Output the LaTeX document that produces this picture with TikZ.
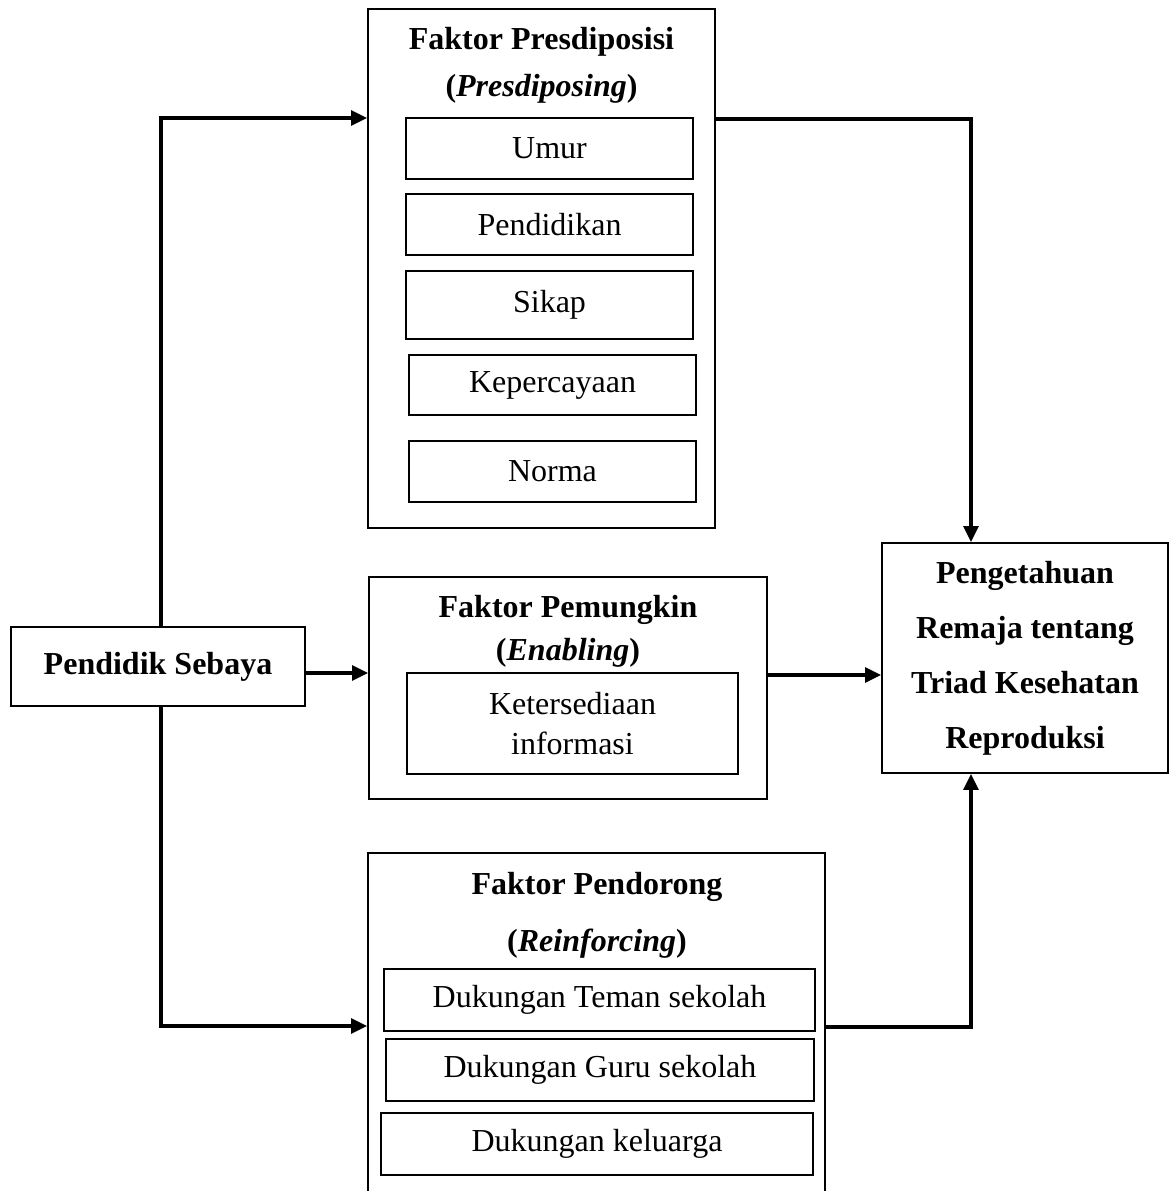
\documentclass[tikz,border=0pt]{standalone}
\usepackage{fontspec}
\setmainfont{Liberation Serif}
\usetikzlibrary{arrows.meta}
\tikzset{
  box/.style={draw=black, line width=1.3pt, fill=none, inner sep=0pt, align=center,
    font=\fontsize{24}{30}\selectfont},
  titletext/.style={anchor=base, inner sep=0pt, font=\fontsize{24}{30}\selectfont\bfseries},
  conn/.style={line width=2.6pt, line join=miter},
  arr/.style={conn, -{Triangle[length=12pt,width=11pt]}},
}
\begin{document}
\begin{tikzpicture}[x=0.75pt,y=-0.75pt]
\useasboundingbox (0,0) rectangle (1173,1191);
\fill[white] (0,0) rectangle (1173,1191);

% Presdiposisi group
\node[box, minimum width=260.25pt, minimum height=389.25pt] (pres) at (541.5,268.5) {};
\node[titletext] (presT1) at (541.5,50) {Faktor Presdiposisi};
\node[titletext] (presT2) at (541.5,97) {(\textit{Presdiposing})};
\node[box, minimum width=215.25pt, minimum height=45.75pt] (umur) at (549.5,148.5) {Umur};
\node[box, minimum width=215.25pt, minimum height=45.75pt] (pendidikan) at (549.5,224.5) {Pendidikan};
\node[box, minimum width=215.25pt, minimum height=51pt] (sikap) at (549.5,305) {Sikap};
\node[box, minimum width=215.25pt, minimum height=45pt] (keper) at (552.5,385) {Kepercayaan};
\node[box, minimum width=215.25pt, minimum height=45.75pt] (norma) at (552.5,471.5) {Norma};

% Pendidik Sebaya
\node[box, minimum width=220.5pt, minimum height=59.25pt, font=\fontsize{24}{30}\selectfont\bfseries] (sebaya) at (158,666.5) {Pendidik Sebaya};

% Pemungkin group
\node[box, minimum width=298.5pt, minimum height=166.5pt] (pemung) at (568,688) {};
\node[titletext] (pemT1) at (568,617) {Faktor Pemungkin};
\node[titletext] (pemT2) at (568,660) {(\textit{Enabling})};
\node[box, minimum width=248.25pt, minimum height=75.75pt, font=\fontsize{24}{30}\selectfont] (info) at (572.5,723.5) {Ketersediaan\\informasi};

% Pengetahuan
\node[box, minimum width=214.5pt, minimum height=172.5pt, font=\fontsize{24}{41.25}\selectfont\bfseries] (penget) at (1025,658) {Pengetahuan\\Remaja tentang\\Triad Kesehatan\\Reproduksi};

% Pendorong group
\node[box, minimum width=342.75pt, minimum height=270pt] (pendor) at (596.5,1033) {};
\node[titletext] (pdT1) at (597,894) {Faktor Pendorong};
\node[titletext] (pdT2) at (597,951) {(\textit{Reinforcing})};
\node[box, minimum width=323.25pt, minimum height=46.5pt] (teman) at (599.5,1000) {Dukungan Teman sekolah};
\node[box, minimum width=321pt, minimum height=46.5pt] (guru) at (600,1070) {Dukungan Guru sekolah};
\node[box, minimum width=324pt, minimum height=46.5pt] (kel) at (597,1144) {Dukungan keluarga};

% junction coordinates
\coordinate (jtop) at (161,118);
\coordinate (jbot) at (161,1026);
\coordinate (jmid) at (305,673);
\coordinate (jr1) at (971,119);
\coordinate (jr2) at (971,1027);
\coordinate (jm2) at (767,675);

% connectors
\draw[arr] (sebaya.north -| jtop) -- (jtop) -- (jtop -| pres.west);
\draw[arr] (jmid -| sebaya.east) -- (jmid -| pemung.west);
\draw[arr] (sebaya.south -| jbot) -- (jbot) -- (jbot -| pendor.west);
\draw[arr] (jr1 -| pres.east) -- (jr1) -- (jr1 |- penget.north);
\draw[arr] (jm2 -| pemung.east) -- (jm2 -| penget.west);
\draw[arr] (jr2 -| pendor.east) -- (jr2) -- (jr2 |- penget.south);
\end{tikzpicture}
\end{document}
